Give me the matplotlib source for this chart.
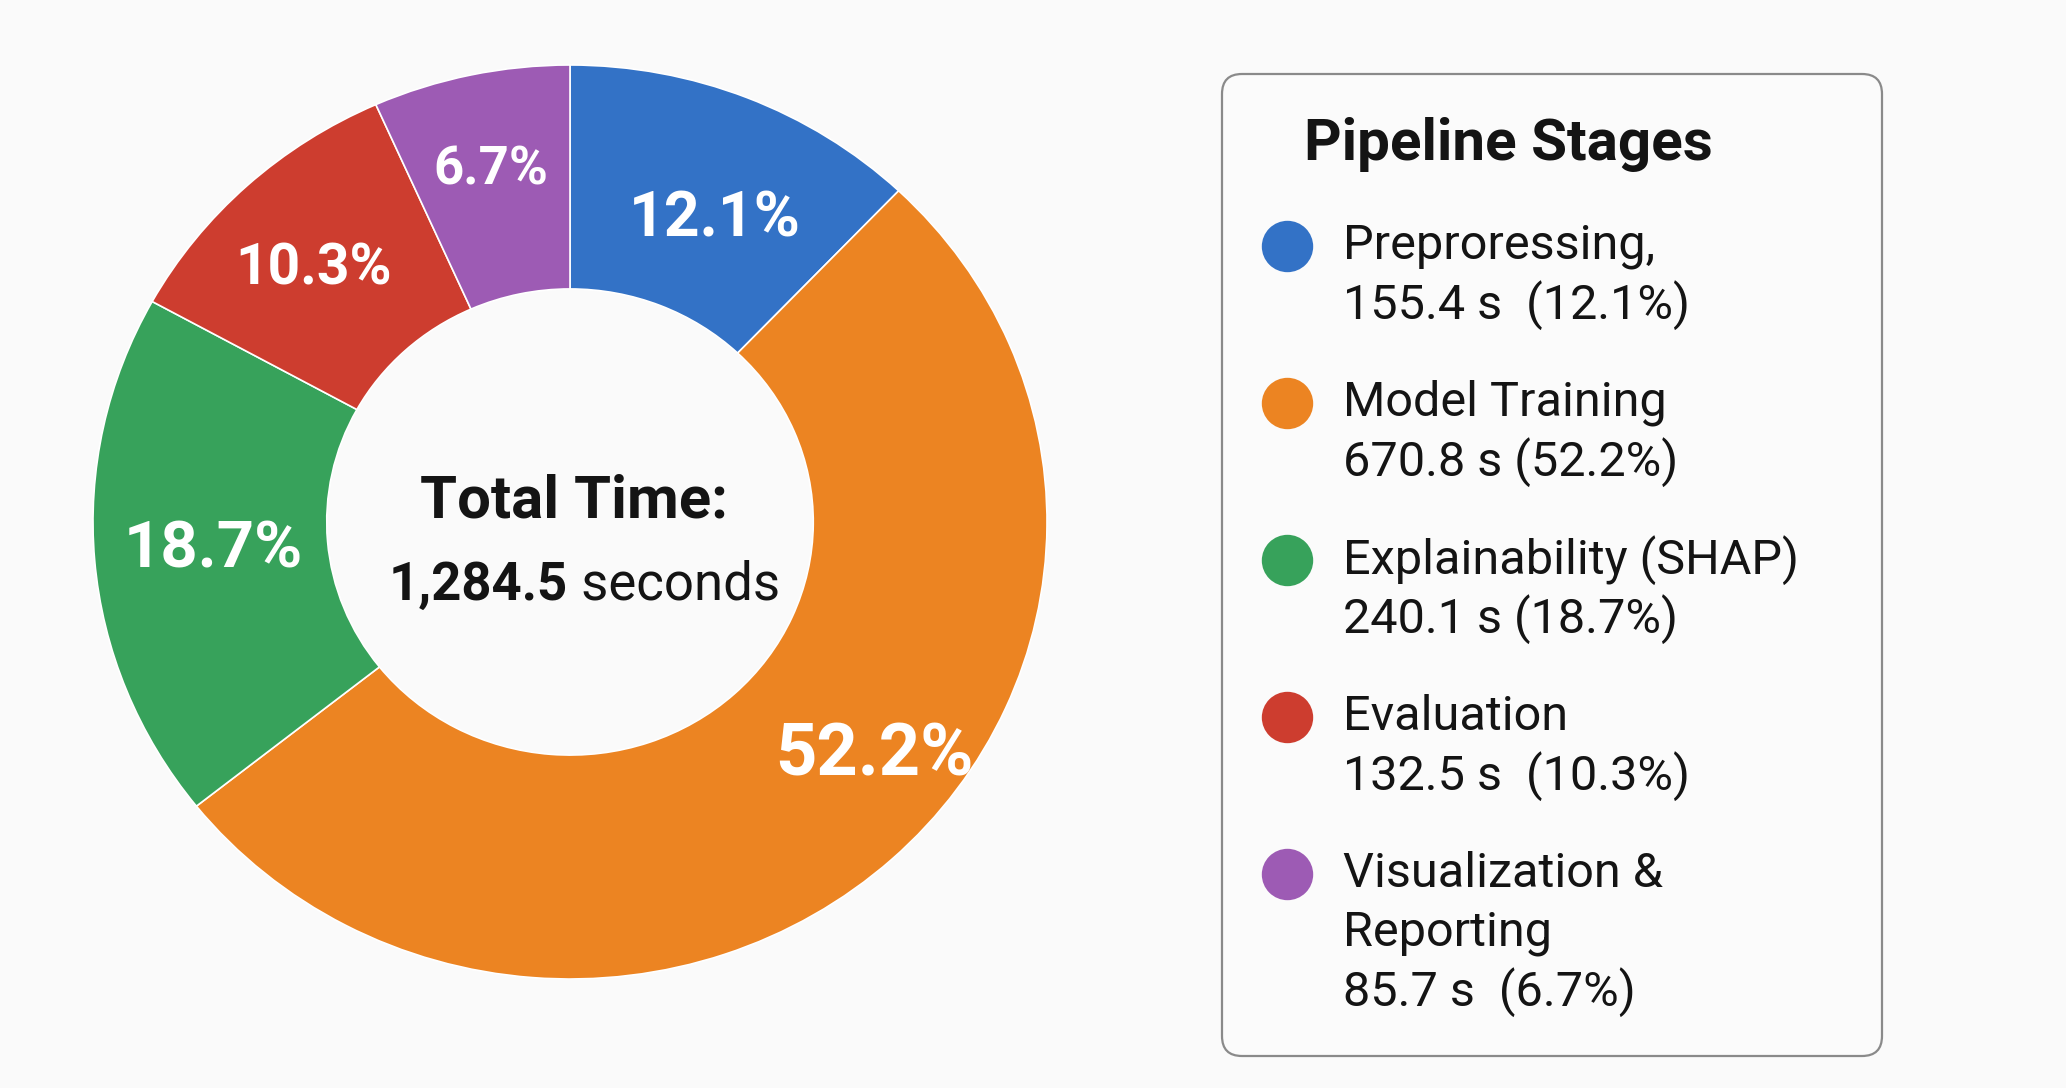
import matplotlib
matplotlib.use('Agg')
import matplotlib.pyplot as plt
from matplotlib.patches import FancyBboxPatch
import numpy as np

plt.rcParams['font.family'] = ['Roboto', 'DejaVu Sans']

# ---- data ----
stages = ['Preproressing,', 'Model Training', 'Explainability (SHAP)',
          'Evaluation', 'Visualization &\nReporting']
seconds = [155.4, 670.8, 240.1, 132.5, 85.7]
legend_values = ['155.4 s  (12.1%)', '670.8 s (52.2%)', '240.1 s (18.7%)',
                 '132.5 s  (10.3%)', '85.7 s  (6.7%)']
colors = ['#3372c6', '#ec8422', '#37a25b', '#cd3d2f', '#9d5bb4']
center_title = 'Total Time:'
center_value = '1,284.5'
center_unit = ' seconds'
legend_title = 'Pipeline Stages'

# ---- label styling (nudges) ----
label_r = [0.74, 0.81, 0.75, 0.78, 0.80]
label_dang = [-2.5, 9.5, -1.0, 1.0, 0.0]
label_fs = [45, 52, 47, 41, 38]

W, H = 2066, 1088
fig = plt.figure(figsize=(W / 100, H / 100), dpi=100)
fig.patch.set_facecolor('#fafafa')

cx, cy, rx, ry = 570, 522, 477, 457
ax = fig.add_axes([(cx - rx) / W, (H - cy - ry) / H, 2 * rx / W, 2 * ry / H])
total = sum(seconds)
pct = [100 * s / total for s in seconds]
wedges, _ = ax.pie(seconds, colors=colors, startangle=90, counterclock=False,
                   radius=1.0,
                   wedgeprops=dict(width=0.49, edgecolor='white', linewidth=1.2))
ax.set_aspect('auto')
ax.set_xlim(-1, 1)
ax.set_ylim(-1, 1)
ax.axis('off')

for i, w in enumerate(wedges):
    mid = np.deg2rad((w.theta1 + w.theta2) / 2 + label_dang[i])
    ax.annotate(f'{pct[i]:.1f}%',
                xy=(label_r[i] * np.cos(mid), label_r[i] * np.sin(mid)),
                xytext=(0, -4), textcoords='offset points',
                ha='center', va='center', color='white', fontsize=label_fs[i],
                fontweight='bold')

# center text
fig.text(574 / W, 1 - 502 / H, center_title, ha='center', va='center',
         fontsize=43, fontweight='bold', color='#141414')
renderer = fig.canvas.get_renderer()
t1 = fig.text(0, 0, center_value, fontsize=38, fontweight='semibold', color='#141414',
              va='center')
t2 = fig.text(0, 0, center_unit, fontsize=38, color='#141414', va='center')
w1 = t1.get_window_extent(renderer).width
w2 = t2.get_window_extent(renderer).width
x0 = 584 - (w1 + w2) / 2
t1.set_position((x0 / W, 1 - 585 / H))
t2.set_position(((x0 + w1) / W, 1 - 585 / H))

# legend panel
bx0, by0, bx1, by1 = 1220, 72, 1884, 1058
lax = fig.add_axes([bx0 / W, 1 - by1 / H, (bx1 - bx0) / W, (by1 - by0) / H])
bw, bh = bx1 - bx0, by1 - by0
lax.set_xlim(0, bw)
lax.set_ylim(bh, 0)
lax.axis('off')
lax.add_patch(FancyBboxPatch((2, 2), bw - 4, bh - 4,
                             boxstyle='round,pad=0,rounding_size=20',
                             facecolor='#fbfbfb', edgecolor='#8a8a8a', linewidth=1.6))
lax.text(84, 72, legend_title, ha='left', va='center', fontsize=42,
         fontweight='bold', color='#141414')

row_y = 174
line_h = 59
row_gap = 98
for i, (name, val) in enumerate(zip(stages, legend_values)):
    lax.plot(67, row_y, 'o', ms=37, color=colors[i], mec='none')
    lines = name.split('\n') + [val]
    for j, ln in enumerate(lines):
        lax.text(123, row_y + j * line_h, ln, ha='left', va='center',
                 fontsize=35, color='#141414')
    row_y += (len(lines) - 1) * line_h + row_gap

fig.savefig('out.png', dpi=100, facecolor=fig.get_facecolor())
